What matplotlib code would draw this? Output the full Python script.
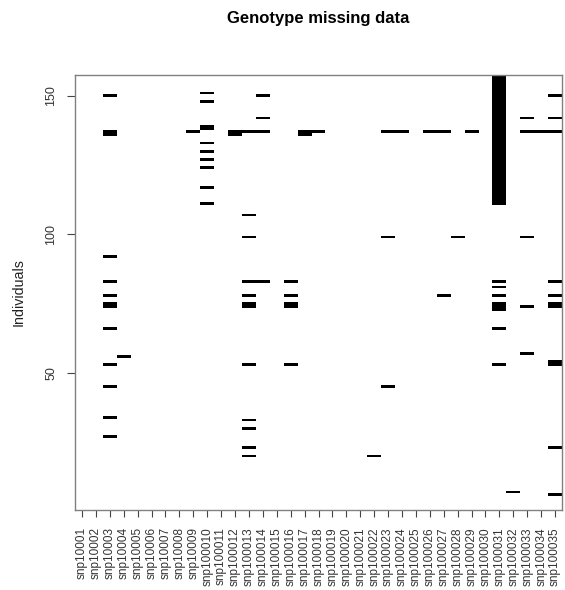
import matplotlib
matplotlib.use("Agg")
import matplotlib.pyplot as plt
from matplotlib.colors import ListedColormap
import numpy as np

plt.rcParams['font.family'] = ['Liberation Sans', 'DejaVu Sans']

# ---- data ----
n_individuals = 157
snp_labels = ["snp1000%d" % i for i in range(1, 10)] + ["snp1000%d" % i for i in range(10, 36)]

# missing genotypes per SNP, as runs of individuals (first, last)
missing_runs = [
    [],                                                     # snp10001
    [],                                                     # snp10002
    [(27, 27), (34, 34), (45, 45), (53, 53), (66, 66), (74, 75), (78, 78),
     (83, 83), (92, 92), (136, 137), (150, 150)],           # snp10003
    [(56, 56)],                                             # snp10004
    [], [], [], [],                                         # snp10005-08
    [(137, 137)],                                           # snp10009
    [(111, 111), (117, 117), (124, 124), (127, 127), (130, 130), (133, 133),
     (138, 139), (148, 148), (151, 151)],                   # snp100010
    [],                                                     # snp100011
    [(136, 137)],                                           # snp100012
    [(20, 20), (23, 23), (30, 30), (33, 33), (53, 53), (74, 75), (78, 78),
     (83, 83), (99, 99), (107, 107), (137, 137)],           # snp100013
    [(83, 83), (137, 137), (142, 142), (150, 150)],         # snp100014
    [],                                                     # snp100015
    [(53, 53), (74, 75), (78, 78), (83, 83)],               # snp100016
    [(136, 137)],                                           # snp100017
    [(137, 137)],                                           # snp100018
    [], [], [],                                             # snp100019-21
    [(20, 20)],                                             # snp100022
    [(45, 45), (99, 99), (137, 137)],                       # snp100023
    [(137, 137)],                                           # snp100024
    [],                                                     # snp100025
    [(137, 137)],                                           # snp100026
    [(78, 78), (137, 137)],                                 # snp100027
    [(99, 99)],                                             # snp100028
    [(137, 137)],                                           # snp100029
    [],                                                     # snp100030
    [(53, 53), (66, 66), (73, 75), (78, 78), (81, 81), (83, 83),
     (111, 157)],                                           # snp100031
    [(7, 7)],                                               # snp100032
    [(57, 57), (74, 74), (99, 99), (137, 137), (142, 142)], # snp100033
    [(137, 137)],                                           # snp100034
    [(6, 6), (23, 23), (53, 54), (74, 75), (78, 78), (83, 83), (137, 137),
     (142, 142), (150, 150)],                               # snp100035
]
y_ticks = [50, 100, 150]

# ---- build matrix ----
n_snps = len(snp_labels)
mat = np.zeros((n_individuals, n_snps))
for j, runs in enumerate(missing_runs):
    for a, b in runs:
        mat[a - 1:b, j] = 1

W, H = 565, 590
fig = plt.figure(figsize=(W / 100, H / 100), dpi=100)
ax = fig.add_axes([75 / W, 1 - 510 / H, (562 - 75) / W, (510 - 75) / H])

ax.imshow(mat, cmap=ListedColormap(['white', 'black']), vmin=0, vmax=1,
          origin='lower', aspect='auto', interpolation='nearest',
          extent=(0.5, n_snps + 0.5, 0.5, n_individuals + 0.5))
ax.set_xlim(0.5, n_snps + 0.5)
ax.set_ylim(0.5, n_individuals + 0.5)

for s in ax.spines.values():
    s.set_color('#808080')
    s.set_linewidth(1.0)

ax.set_xticks(np.arange(1, n_snps + 1))
ax.set_xticklabels(snp_labels, rotation=90, fontsize=8.5, color='#333333')
ax.set_yticks(y_ticks)
ax.set_yticklabels([str(v) for v in y_ticks], rotation=90, va='center',
                   fontsize=9, color='#333333')
ax.tick_params(axis='x', length=5, width=0.8, color='#444444', pad=7.5)
ax.tick_params(axis='y', length=5.8, width=0.8, color='#444444', pad=7)

fig.text(19 / W, 1 - 292.5 / H, 'Individuals', rotation=90, ha='center',
         va='center', fontsize=10.3, color='#222222')
fig.text(318 / W, 1 - 23.5 / H, 'Genotype missing data', ha='center',
         va='baseline', fontsize=12, fontweight='bold', color='black')

fig.savefig('out.png', dpi=100)
